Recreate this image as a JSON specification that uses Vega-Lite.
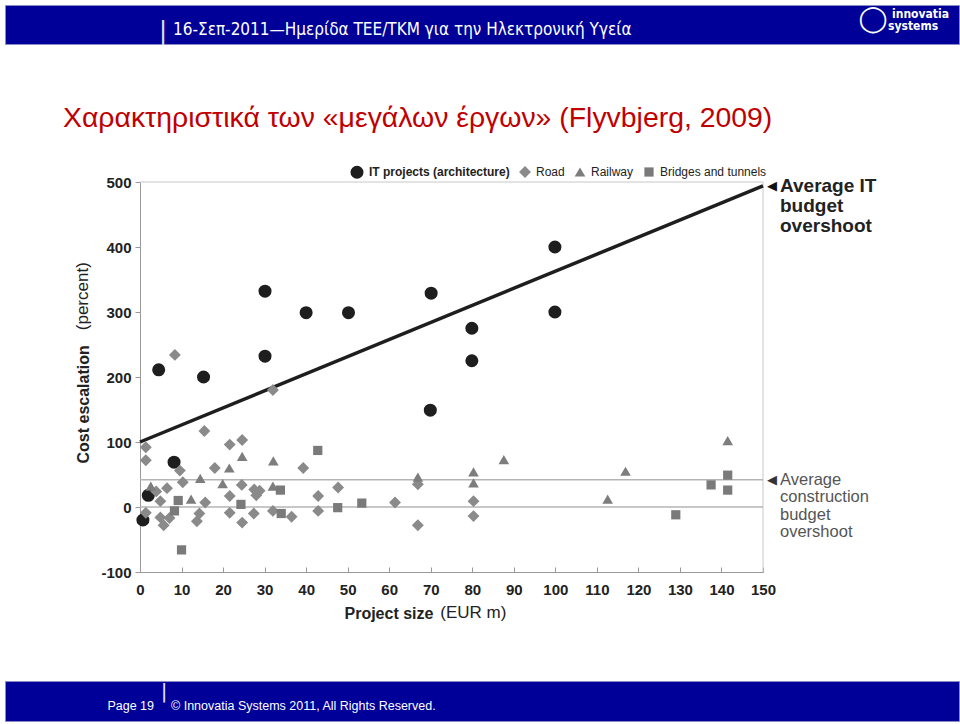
{
  "$schema": "https://vega.github.io/schema/vega-lite/v6.json",
  "background": "white",
  "padding": {"left": 4, "top": 4, "right": 2, "bottom": 4},
  "config": {"view": {"stroke": null}, "font": "Liberation Sans"},
  "bounds": "flush",
  "spacing": 0,
  "vconcat": [
    {
      "width": 954,
      "height": 39,
      "view": {"fill": "#000099", "stroke": "#8a8ac4", "strokeWidth": 1},
      "data": {"values": [{}]},
      "layer": [
        {"mark": {"type": "text", "align": "left", "baseline": "middle", "dx": -309, "dy": 5, "font": "Liberation Sans Narrow, DejaVu Sans Condensed, sans-serif", "fontSize": 17, "color": "white"},
         "encoding": {"text": {"value": "16-Σεπ-2011—Ημερίδα ΤΕΕ/ΤΚΜ για την Ηλεκτρονική Υγεία"}}},
        {"mark": {"type": "text", "align": "center", "baseline": "middle", "dx": -319, "dy": 7, "font": "DejaVu Sans", "fontSize": 24, "color": "#e0e0ff"},
         "encoding": {"text": {"value": "|"}}},
        {"mark": {"type": "text", "align": "center", "baseline": "middle", "dx": 391, "dy": -6, "font": "DejaVu Sans", "fontSize": 26, "color": "white"},
         "encoding": {"text": {"value": "◯"}}},
        {"mark": {"type": "text", "align": "left", "baseline": "middle", "dx": 410, "dy": -11, "font": "Liberation Sans Narrow, DejaVu Sans Condensed, sans-serif", "fontWeight": "bold", "fontSize": 12, "color": "white"},
         "encoding": {"text": {"value": "innovatia"}}},
        {"mark": {"type": "text", "align": "left", "baseline": "middle", "dx": 406, "dy": 1.5, "font": "Liberation Sans Narrow, DejaVu Sans Condensed, sans-serif", "fontWeight": "bold", "fontSize": 12, "color": "white"},
         "encoding": {"text": {"value": "systems"}}}
      ]
    },
    {
      "width": 954,
      "height": 138,
      "data": {"values": [{}]},
      "mark": {"type": "text", "align": "left", "baseline": "middle", "dx": -419, "dy": 5, "fontSize": 28.4, "color": "#C00000"},
      "encoding": {"text": {"value": "Χαρακτηριστικά των «μεγάλων έργων» (Flyvbjerg, 2009)"}}
    },
    {
      "width": 954,
      "height": 390,
      "data": {
        "values": [
          {"category": "IT projects (architecture)", "project_size": 0.7, "cost_escalation": -20},
          {"category": "IT projects (architecture)", "project_size": 2, "cost_escalation": 18},
          {"category": "IT projects (architecture)", "project_size": 4.5, "cost_escalation": 211},
          {"category": "IT projects (architecture)", "project_size": 8.2, "cost_escalation": 69},
          {"category": "IT projects (architecture)", "project_size": 15.3, "cost_escalation": 200},
          {"category": "IT projects (architecture)", "project_size": 30.1, "cost_escalation": 332},
          {"category": "IT projects (architecture)", "project_size": 30.1, "cost_escalation": 232},
          {"category": "IT projects (architecture)", "project_size": 40, "cost_escalation": 299},
          {"category": "IT projects (architecture)", "project_size": 50.2, "cost_escalation": 299},
          {"category": "IT projects (architecture)", "project_size": 69.9, "cost_escalation": 149},
          {"category": "IT projects (architecture)", "project_size": 70.1, "cost_escalation": 329},
          {"category": "IT projects (architecture)", "project_size": 79.9, "cost_escalation": 275},
          {"category": "IT projects (architecture)", "project_size": 79.9, "cost_escalation": 225},
          {"category": "IT projects (architecture)", "project_size": 99.9, "cost_escalation": 400},
          {"category": "IT projects (architecture)", "project_size": 99.9, "cost_escalation": 300},
          {"category": "Road", "project_size": 8.4, "cost_escalation": 234},
          {"category": "Road", "project_size": 32, "cost_escalation": 180},
          {"category": "Road", "project_size": 15.5, "cost_escalation": 117},
          {"category": "Road", "project_size": 1.4, "cost_escalation": 92},
          {"category": "Road", "project_size": 21.6, "cost_escalation": 96},
          {"category": "Road", "project_size": 24.6, "cost_escalation": 103},
          {"category": "Road", "project_size": 1.4, "cost_escalation": 72},
          {"category": "Road", "project_size": 9.6, "cost_escalation": 56},
          {"category": "Road", "project_size": 18, "cost_escalation": 60},
          {"category": "Road", "project_size": 10.3, "cost_escalation": 38},
          {"category": "Road", "project_size": 39.3, "cost_escalation": 60},
          {"category": "Road", "project_size": 6.5, "cost_escalation": 29},
          {"category": "Road", "project_size": 3.9, "cost_escalation": 24},
          {"category": "Road", "project_size": 4.9, "cost_escalation": 9},
          {"category": "Road", "project_size": 24.5, "cost_escalation": 34},
          {"category": "Road", "project_size": 21.6, "cost_escalation": 17},
          {"category": "Road", "project_size": 15.7, "cost_escalation": 7},
          {"category": "Road", "project_size": 27.5, "cost_escalation": 27},
          {"category": "Road", "project_size": 28.8, "cost_escalation": 25},
          {"category": "Road", "project_size": 28, "cost_escalation": 18},
          {"category": "Road", "project_size": 1.4, "cost_escalation": -9},
          {"category": "Road", "project_size": 4.9, "cost_escalation": -16},
          {"category": "Road", "project_size": 5.7, "cost_escalation": -28},
          {"category": "Road", "project_size": 7.1, "cost_escalation": -17},
          {"category": "Road", "project_size": 13.7, "cost_escalation": -22},
          {"category": "Road", "project_size": 14.3, "cost_escalation": -10},
          {"category": "Road", "project_size": 21.6, "cost_escalation": -9},
          {"category": "Road", "project_size": 24.6, "cost_escalation": -24},
          {"category": "Road", "project_size": 27.4, "cost_escalation": -10},
          {"category": "Road", "project_size": 32, "cost_escalation": -6},
          {"category": "Road", "project_size": 36.5, "cost_escalation": -15},
          {"category": "Road", "project_size": 42.9, "cost_escalation": 17},
          {"category": "Road", "project_size": 42.9, "cost_escalation": -6},
          {"category": "Road", "project_size": 47.7, "cost_escalation": 30},
          {"category": "Road", "project_size": 61.4, "cost_escalation": 7},
          {"category": "Road", "project_size": 66.9, "cost_escalation": 35},
          {"category": "Road", "project_size": 66.9, "cost_escalation": -28},
          {"category": "Road", "project_size": 80.3, "cost_escalation": 9},
          {"category": "Road", "project_size": 80.3, "cost_escalation": -14},
          {"category": "Railway", "project_size": 2.6, "cost_escalation": 32},
          {"category": "Railway", "project_size": 12.3, "cost_escalation": 12},
          {"category": "Railway", "project_size": 14.5, "cost_escalation": 44},
          {"category": "Railway", "project_size": 19.9, "cost_escalation": 36},
          {"category": "Railway", "project_size": 21.5, "cost_escalation": 60},
          {"category": "Railway", "project_size": 24.6, "cost_escalation": 78},
          {"category": "Railway", "project_size": 32.1, "cost_escalation": 71},
          {"category": "Railway", "project_size": 32, "cost_escalation": 32},
          {"category": "Railway", "project_size": 66.9, "cost_escalation": 46},
          {"category": "Railway", "project_size": 80.3, "cost_escalation": 54},
          {"category": "Railway", "project_size": 80.3, "cost_escalation": 37},
          {"category": "Railway", "project_size": 87.6, "cost_escalation": 73},
          {"category": "Railway", "project_size": 112.6, "cost_escalation": 12},
          {"category": "Railway", "project_size": 116.9, "cost_escalation": 55},
          {"category": "Railway", "project_size": 141.5, "cost_escalation": 102},
          {"category": "Bridges and tunnels", "project_size": 8.3, "cost_escalation": -6},
          {"category": "Bridges and tunnels", "project_size": 9.2, "cost_escalation": 10},
          {"category": "Bridges and tunnels", "project_size": 10, "cost_escalation": -66},
          {"category": "Bridges and tunnels", "project_size": 24.3, "cost_escalation": 4},
          {"category": "Bridges and tunnels", "project_size": 33.8, "cost_escalation": 26},
          {"category": "Bridges and tunnels", "project_size": 34, "cost_escalation": -10},
          {"category": "Bridges and tunnels", "project_size": 42.8, "cost_escalation": 87},
          {"category": "Bridges and tunnels", "project_size": 47.6, "cost_escalation": -1},
          {"category": "Bridges and tunnels", "project_size": 53.4, "cost_escalation": 6},
          {"category": "Bridges and tunnels", "project_size": 129, "cost_escalation": -12},
          {"category": "Bridges and tunnels", "project_size": 137.5, "cost_escalation": 34},
          {"category": "Bridges and tunnels", "project_size": 141.5, "cost_escalation": 49},
          {"category": "Bridges and tunnels", "project_size": 141.5, "cost_escalation": 26}
        ]
      },
      "layer": [
        {"data": {"values": [{}]}, "mark": {"type": "rule", "color": "#c8c8c8", "strokeWidth": 1},
         "encoding": {"x": {"datum": 0}, "x2": {"datum": 150}, "y": {"datum": 500}}},
        {"data": {"values": [{}]}, "mark": {"type": "rule", "color": "#c8c8c8", "strokeWidth": 1},
         "encoding": {"x": {"datum": 150}, "y": {"datum": -100}, "y2": {"datum": 500}}},
        {"data": {"values": [{}]}, "mark": {"type": "rule", "color": "#b4b4b4", "strokeWidth": 1.5},
         "encoding": {"x": {"datum": 0}, "x2": {"datum": 150}, "y": {"datum": 0}}},
        {"data": {"values": [{}]}, "mark": {"type": "rule", "color": "#b4b4b4", "strokeWidth": 1.5},
         "encoding": {"x": {"datum": 0}, "x2": {"datum": 150}, "y": {"datum": 42}}},
        {
          "data": {"values": [{"project_size": 0, "cost_escalation": 100}, {"project_size": 150, "cost_escalation": 494}]},
          "mark": {"type": "line", "color": "#1e1e1e", "strokeWidth": 3.5},
          "encoding": {
            "x": {"field": "project_size", "type": "quantitative"},
            "y": {"field": "cost_escalation", "type": "quantitative"}
          }
        },
        {
          "mark": {"type": "point", "filled": true, "opacity": 1, "strokeWidth": 0},
          "encoding": {
            "x": {
              "field": "project_size", "type": "quantitative",
              "scale": {"domain": [0, 150], "nice": false, "zero": false, "range": [135, 758]},
              "axis": {
                "values": [0, 10, 20, 30, 40, 50, 60, 70, 80, 90, 100, 110, 120, 130, 140, 150],
                "labelFontSize": 15, "labelFontWeight": "bold", "labelColor": "#222", "labelFlush": false,
                "domainColor": "#999", "tickColor": "#999", "tickSize": -5, "labelPadding": 15, "grid": false,
                "title": "Project size", "titleFontSize": 16, "titleFontWeight": "bold", "titleColor": "#222",
                "titleX": 339, "titleY": 41, "titleAlign": "left", "titleBaseline": "middle"
              }
            },
            "y": {
              "field": "cost_escalation", "type": "quantitative",
              "scale": {"domain": [-100, 500], "nice": false, "zero": false},
              "axis": {
                "values": [-100, 0, 100, 200, 300, 400, 500],
                "labelExpr": "'' + datum.value", "offset": -135,
                "labelFontSize": 15, "labelFontWeight": "bold", "labelColor": "#222",
                "domainColor": "#999", "tickColor": "#999", "tickSize": 5, "labelPadding": 4, "grid": false,
                "title": "Cost escalation", "titleFontSize": 16, "titleFontWeight": "bold", "titleColor": "#222",
                "titleAngle": 270, "titleX": -57, "titleY": 281, "titleAlign": "left", "titleBaseline": "middle"
              }
            },
            "shape": {
              "field": "category", "type": "nominal",
              "scale": {"domain": ["IT projects (architecture)", "Road", "Railway", "Bridges and tunnels"], "range": ["circle", "diamond", "triangle-up", "square"]},
              "legend": {
                "title": null, "orient": "none", "legendX": 345, "legendY": 160, "direction": "horizontal", "padding": 0,
                "labelFontSize": 12, "labelColor": "#222", "symbolSize": 130, "columnPadding": 9, "labelOffset": 5, "symbolStrokeWidth": 0,
                "labelFontWeight": {"expr": "datum.label === 'IT projects (architecture)' ? 'bold' : 'normal'"}
              }
            },
            "color": {
              "field": "category", "type": "nominal",
              "scale": {"domain": ["IT projects (architecture)", "Road", "Railway", "Bridges and tunnels"], "range": ["#1e1e1e", "#8a8a8a", "#7d7d7d", "#7a7a7a"]},
              "legend": {
                "title": null, "orient": "none", "legendX": 345, "legendY": 160, "direction": "horizontal", "padding": 0,
                "labelFontSize": 12, "labelColor": "#222", "symbolSize": 130, "columnPadding": 9, "labelOffset": 5, "symbolStrokeWidth": 0,
                "labelFontWeight": {"expr": "datum.label === 'IT projects (architecture)' ? 'bold' : 'normal'"}
              }
            },
            "size": {
              "field": "category", "type": "nominal",
              "scale": {"domain": ["IT projects (architecture)", "Road", "Railway", "Bridges and tunnels"], "range": [170, 85, 130, 95]},
              "legend": null
            }
          }
        },
        {"data": {"values": [{}]}, "mark": {"type": "text", "font": "DejaVu Sans", "fontSize": 13, "dx": 9, "align": "center", "baseline": "middle", "color": "#111"},
         "encoding": {"x": {"datum": 150}, "y": {"datum": 494}, "text": {"value": "◀"}}},
        {"data": {"values": [{}]}, "mark": {"type": "text", "font": "DejaVu Sans", "fontSize": 13, "dx": 9, "align": "center", "baseline": "middle", "color": "#333"},
         "encoding": {"x": {"datum": 150}, "y": {"datum": 42}, "text": {"value": "◀"}}},
        {"data": {"values": [{}]}, "mark": {"type": "text", "align": "left", "baseline": "top", "dx": 17, "dy": -9, "fontSize": 19, "fontWeight": "bold", "color": "#222", "lineHeight": 20},
         "encoding": {"x": {"datum": 150}, "y": {"datum": 494}, "text": {"value": ["Average IT", "budget", "overshoot"]}}},
        {"data": {"values": [{}]}, "mark": {"type": "text", "align": "left", "baseline": "top", "dx": 17, "dy": -8, "fontSize": 16.5, "color": "#555", "lineHeight": 17.5},
         "encoding": {"x": {"datum": 150}, "y": {"datum": 42}, "text": {"value": ["Average", "construction", "budget", "overshoot"]}}},
        {"data": {"values": [{}]}, "mark": {"type": "text", "align": "left", "baseline": "middle", "dy": 41, "fontSize": 17, "color": "#222"},
         "encoding": {"x": {"datum": 72.3}, "y": {"datum": -100}, "text": {"value": "(EUR m)"}}},
        {"data": {"values": [{}]}, "mark": {"type": "text", "align": "left", "baseline": "middle", "angle": 270, "dy": -57, "fontSize": 17, "color": "#222"},
         "encoding": {"x": {"datum": 0}, "y": {"datum": 272}, "text": {"value": "(percent)"}}}
      ]
    },
    {
      "width": 954,
      "height": 109,
      "data": {"values": [{}]},
      "mark": {"type": "text"},
      "encoding": {"text": {"value": ""}}
    },
    {
      "width": 954,
      "height": 40,
      "view": {"fill": "#000099", "stroke": "#8a8ac4", "strokeWidth": 1},
      "data": {"values": [{}]},
      "layer": [
        {"mark": {"type": "text", "align": "right", "baseline": "middle", "dx": -328, "dy": 5, "fontSize": 12.5, "color": "white"},
         "encoding": {"text": {"value": "Page 19"}}},
        {"mark": {"type": "text", "align": "left", "baseline": "middle", "dx": -311, "dy": 5, "fontSize": 12.5, "color": "white"},
         "encoding": {"text": {"value": "© Innovatia Systems 2011, All Rights Reserved."}}},
        {"mark": {"type": "text", "align": "center", "baseline": "middle", "dx": -318, "dy": -9, "font": "DejaVu Sans", "fontSize": 20, "color": "#e0e0ff"},
         "encoding": {"text": {"value": "|"}}}
      ]
    }
  ]
}
